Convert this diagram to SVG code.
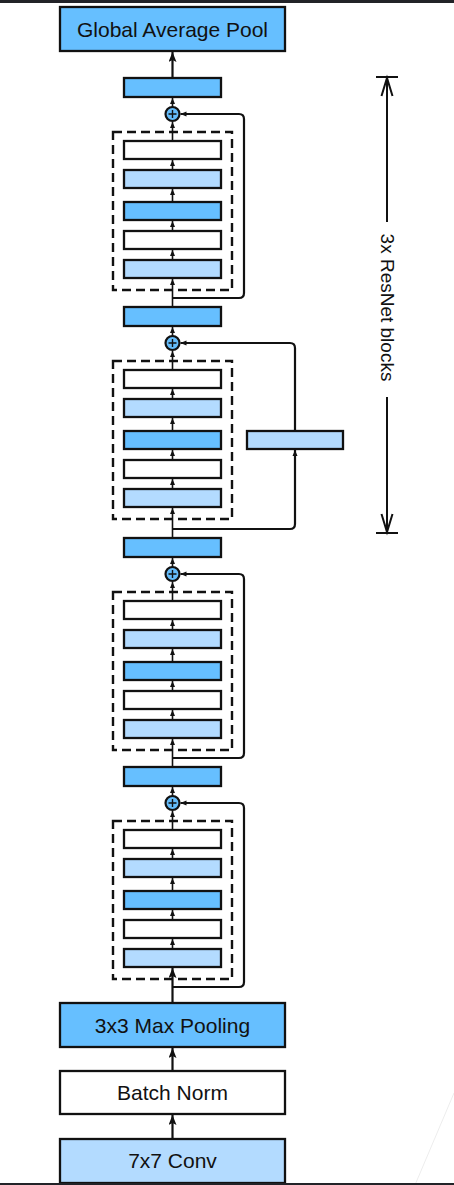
<svg xmlns="http://www.w3.org/2000/svg" width="454" height="1185" viewBox="0 0 454 1185">
<style>
.b{fill:#66bfff;stroke:#111;stroke-width:2.3}
.l{fill:#b3dbff;stroke:#111;stroke-width:2.3}
.w{fill:#fff;stroke:#111;stroke-width:2.3}
.d{fill:none;stroke:#111;stroke-width:2.4;stroke-dasharray:9,5}
.a{fill:none;stroke:#111;stroke-width:1.6;marker-end:url(#sa)}
.A{fill:none;stroke:#111;stroke-width:2.2;marker-end:url(#ba)}
.s{fill:none;stroke:#111;stroke-width:2.2;marker-end:url(#sa)}
.c{fill:#64bcfa;stroke:#111;stroke-width:2.2}
.p{stroke:#111;stroke-width:1.4}
.t{font-family:"Liberation Sans",Arial,sans-serif;font-size:21px;fill:#111;text-anchor:middle}
</style>
<defs>
<marker id="sa" viewBox="0 0 6 6" refX="6" refY="3" markerWidth="6" markerHeight="6" markerUnits="userSpaceOnUse" orient="auto"><path d="M0,0.5 L6,3 L0,5.5 z" fill="#111"/></marker>
<marker id="ba" viewBox="0 0 10 8" refX="10" refY="4" markerWidth="10" markerHeight="8" markerUnits="userSpaceOnUse" orient="auto"><path d="M0,0 L10,4 L0,8 L2,4 z" fill="#111"/></marker>
</defs>
<rect x="0" y="0" width="454" height="1185" fill="#fff"/>
<rect x="0" y="0" width="454" height="3" fill="#222328"/>
<line x1="454" y1="1093" x2="415" y2="1185" stroke="#ededed" stroke-width="1"/>

<g id="gap"><rect class="b" x="60" y="7" width="225" height="44"/><text class="t" x="172.5" y="36.5">Global Average Pool</text></g>
<g id="maxpool"><rect class="b" x="60" y="1003" width="225" height="44"/><text class="t" x="172.5" y="1032.5">3x3 Max Pooling</text></g>
<g id="batchnorm"><rect class="w" x="60" y="1071" width="225" height="43"/><text class="t" x="172.5" y="1100">Batch Norm</text></g>
<g id="conv"><rect class="l" x="60" y="1139" width="225" height="44"/><text class="t" x="172.5" y="1168">7x7 Conv</text></g>

<g id="bar4"><rect class="b" x="124" y="78" width="97" height="19"/></g>
<g id="bar3"><rect class="b" x="124" y="307" width="97" height="19"/></g>
<g id="bar2"><rect class="b" x="124" y="538" width="97" height="19"/></g>
<g id="bar1"><rect class="b" x="124" y="767" width="97" height="19"/></g>

<g id="block4">
<rect class="d" x="113" y="132" width="119" height="158"/>
<rect class="w" x="124" y="141" width="97" height="18"/>
<rect class="l" x="124" y="170" width="97" height="18"/>
<rect class="b" x="124" y="202" width="97" height="18"/>
<rect class="w" x="124" y="231" width="97" height="18"/>
<rect class="l" x="124" y="260" width="97" height="18"/>
<circle class="c" cx="172.5" cy="114" r="7"/><path class="p" d="M168.5,114 H176.5 M172.5,110 V118"/>
</g>
<g id="block3">
<rect class="d" x="113" y="361" width="119" height="158"/>
<rect class="w" x="124" y="370" width="97" height="18"/>
<rect class="l" x="124" y="399" width="97" height="18"/>
<rect class="b" x="124" y="431" width="97" height="18"/>
<rect class="w" x="124" y="460" width="97" height="18"/>
<rect class="l" x="124" y="489" width="97" height="18"/>
<circle class="c" cx="172.5" cy="343" r="7"/><path class="p" d="M168.5,343 H176.5 M172.5,339 V347"/>
</g>
<g id="projection"><rect class="l" x="247" y="431" width="96" height="18"/></g>
<g id="block2">
<rect class="d" x="113" y="592" width="119" height="158"/>
<rect class="w" x="124" y="601" width="97" height="18"/>
<rect class="l" x="124" y="630" width="97" height="18"/>
<rect class="b" x="124" y="662" width="97" height="18"/>
<rect class="w" x="124" y="691" width="97" height="18"/>
<rect class="l" x="124" y="720" width="97" height="18"/>
<circle class="c" cx="172.5" cy="574" r="7"/><path class="p" d="M168.5,574 H176.5 M172.5,570 V578"/>
</g>
<g id="block1">
<rect class="d" x="113" y="821" width="119" height="158"/>
<rect class="w" x="124" y="830" width="97" height="18"/>
<rect class="l" x="124" y="859" width="97" height="18"/>
<rect class="b" x="124" y="891" width="97" height="18"/>
<rect class="w" x="124" y="920" width="97" height="18"/>
<rect class="l" x="124" y="949" width="97" height="18"/>
<circle class="c" cx="172.5" cy="803" r="7"/><path class="p" d="M168.5,803 H176.5 M172.5,799 V807"/>
</g>

<g id="connectors">
<path class="A" d="M172.5,1139 V1115"/>
<path class="A" d="M172.5,1071 V1048"/>
<path class="A" d="M172.5,78 V52"/>
<path class="A" d="M172.5,1003 V968"/>
<path class="a" d="M172.5,107 V98"/>
<path class="a" d="M172.5,141 V122"/>
<path class="a" d="M172.5,170 V160"/>
<path class="a" d="M172.5,202 V189"/>
<path class="a" d="M172.5,231 V221"/>
<path class="a" d="M172.5,260 V250"/>
<path class="a" d="M172.5,307 V279"/>
<path class="s" d="M172.5,298 H239 Q244,298 244,293 V119 Q244,114 239,114 H180.5"/>
<path class="a" d="M172.5,336 V327"/>
<path class="a" d="M172.5,370 V351"/>
<path class="a" d="M172.5,399 V389"/>
<path class="a" d="M172.5,431 V418"/>
<path class="a" d="M172.5,460 V450"/>
<path class="a" d="M172.5,489 V479"/>
<path class="a" d="M172.5,538 V508"/>
<path class="s" d="M172.5,529 H290 Q295,529 295,524 V450"/>
<path class="s" d="M295,431 V348 Q295,343 290,343 H180.5"/>
<path class="a" d="M172.5,567 V558"/>
<path class="a" d="M172.5,601 V582"/>
<path class="a" d="M172.5,630 V620"/>
<path class="a" d="M172.5,662 V649"/>
<path class="a" d="M172.5,691 V681"/>
<path class="a" d="M172.5,720 V710"/>
<path class="a" d="M172.5,767 V739"/>
<path class="s" d="M172.5,758 H239 Q244,758 244,753 V579 Q244,574 239,574 H180.5"/>
<path class="a" d="M172.5,796 V787"/>
<path class="a" d="M172.5,830 V811"/>
<path class="a" d="M172.5,859 V849"/>
<path class="a" d="M172.5,891 V878"/>
<path class="a" d="M172.5,920 V910"/>
<path class="a" d="M172.5,949 V939"/>
<path class="s" d="M172.5,987 H239 Q244,987 244,982 V808 Q244,803 239,803 H180.5"/>
</g>

<g id="annotation">
<path d="M376,77 H398 M387,77 V222 M387,397 V533 M376,533 H398" fill="none" stroke="#111" stroke-width="2"/>
<path d="M381.5,96 L387,78 L392.5,96 M381.5,514 L387,532 L392.5,514" fill="none" stroke="#111" stroke-width="2"/>
<text class="t" x="387" y="307.5" style="font-size:19px" dominant-baseline="central" transform="rotate(90 387 307.5)">3x ResNet blocks</text>
</g>
<rect x="0" y="1183" width="454" height="2" fill="#222328"/>
</svg>
